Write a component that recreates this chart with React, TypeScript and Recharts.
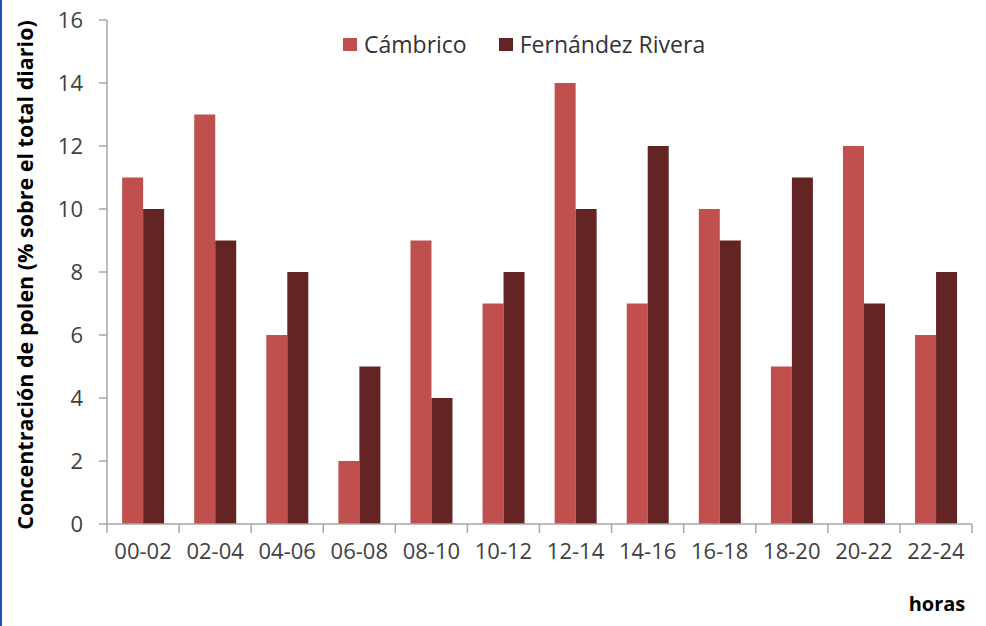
import React from "react";
import { BarChart, Bar, XAxis, YAxis, Legend } from "recharts";

const categories = ["00-02", "02-04", "04-06", "06-08", "08-10", "10-12", "12-14", "14-16", "16-18", "18-20", "20-22", "22-24"];
const cambrico = [11, 13, 6, 2, 9, 7, 14, 7, 10, 5, 12, 6];
const fernandez = [10, 9, 8, 5, 4, 8, 10, 12, 9, 11, 7, 8];
const yTicks = [0, 2, 4, 6, 8, 10, 12, 14, 16];
const seriesNames = ["Cámbrico", "Fernández Rivera"];
const colors = ["#C0504D", "#632423"];

const data = categories.map((c, i) => ({ cat: c, a: cambrico[i], b: fernandez[i] }));

const FONT = "'Open Sans', sans-serif";
const AXIS_COLOR = "#A6A6A6";
const TEXT_COLOR = "#404040";

const XTick = (props: any) => {
  const { x, y, payload, index, visibleTicksCount } = props;
  const off = payload.offset || 0;
  const axisY = y - 19;
  return (
    <g>
      <line x1={x - off} x2={x - off} y1={axisY} y2={axisY + 9} stroke={AXIS_COLOR} strokeWidth={1.5} />
      {index === visibleTicksCount - 1 && (
        <line x1={x + off} x2={x + off} y1={axisY} y2={axisY + 9} stroke={AXIS_COLOR} strokeWidth={1.5} />
      )}
      <text x={x} y={y} dy="0.71em" textAnchor="middle" fill={TEXT_COLOR} fontSize={22} fontFamily={FONT}>
        {payload.value}
      </text>
    </g>
  );
};

const LegendContent = () => (
  <div style={{ display: "flex", alignItems: "center", fontFamily: FONT, fontSize: 23, color: "#333" }}>
    {seriesNames.map((n, i) => (
      <div key={n} style={{ display: "flex", alignItems: "center", marginRight: i === 0 ? 32 : 0 }}>
        <span style={{ display: "inline-block", width: 14, height: 13, background: colors[i], marginRight: 7 }} />
        <span>{n}</span>
      </div>
    ))}
  </div>
);

export default function App() {
  return (
    <div style={{ position: "absolute", left: 0, top: 0, width: 986, height: 626, background: "#fff" }}>
      <div style={{ position: "absolute", left: 0, top: 0, width: 2, height: 626, background: "#1F4FB0" }} />
      <BarChart
        width={986}
        height={626}
        data={data}
        margin={{ top: 20, right: 14, left: 0, bottom: 0 }}
        barCategoryGap="21%"
        barGap={0}
      >
        <XAxis
          dataKey="cat"
          height={102}
          tickLine={false}
          tickSize={9}
          tickMargin={10}
          axisLine={{ stroke: AXIS_COLOR, strokeWidth: 1.5 }}
          tick={<XTick />}
          interval={0}
          label={{
            content: (p: any) => {
              const vb = p.viewBox;
              return (
                <text x={vb.x + vb.width - 35} y={vb.y + 87} textAnchor="middle" fontFamily={FONT} fontWeight="bold" fontSize={20} fill="#000">
                  horas
                </text>
              );
            },
          }}
        />
        <YAxis
          width={107}
          domain={[0, 16]}
          ticks={yTicks}
          interval={0}
          tickSize={8}
          tickMargin={16}
          axisLine={{ stroke: AXIS_COLOR, strokeWidth: 1.5 }}
          tickLine={{ stroke: AXIS_COLOR, strokeWidth: 1.5 }}
          tick={{ fill: TEXT_COLOR, fontSize: 22, fontFamily: FONT }}
          label={{
            content: (p: any) => {
              const vb = p.viewBox;
              const cx = vb.x + 24;
              const cy = vb.y + vb.height / 2 + 3;
              return (
                <text x={cx} y={cy} transform={`rotate(-90, ${cx}, ${cy})`} textAnchor="middle" dominantBaseline="central" fontFamily={FONT} fontWeight="bold" fontSize={21.5} fill="#000">
                  Concentración de polen (% sobre el total diario)
                </text>
              );
            },
          }}
        />
        <Legend
          layout="horizontal"
          verticalAlign="middle"
          align="center"
          content={<LegendContent />}
          wrapperStyle={{ top: 28, left: 343, width: "auto" }}
        />
        <Bar dataKey="a" name={seriesNames[0]} fill={colors[0]} isAnimationActive={false} />
        <Bar dataKey="b" name={seriesNames[1]} fill={colors[1]} isAnimationActive={false} />
      </BarChart>
    </div>
  );
}
